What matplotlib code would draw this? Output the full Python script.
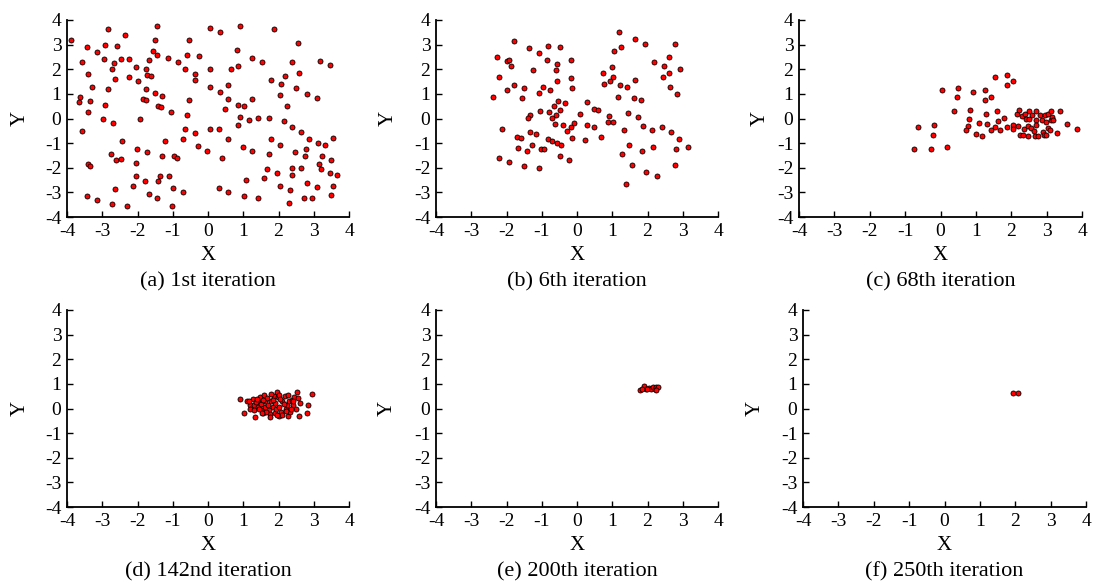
import matplotlib
matplotlib.use("Agg")
import matplotlib.pyplot as plt
import numpy as np

plt.rcParams['font.family'] = ['Liberation Serif', 'DejaVu Serif']
plt.rcParams['axes.unicode_minus'] = False

captions = ["(a) 1st iteration", "(b) 6th iteration", "(c) 68th iteration",
            "(d) 142nd iteration", "(e) 200th iteration", "(f) 250th iteration"]
ticks = [-4, -3, -2, -1, 0, 1, 2, 3, 4]

a_x = [-3.88, -2.85, -1.44, -2.36, -3.43, -2.92, -2.58, -3.16, -1.50, -0.53, 0.06, 0.33, 0.92, 1.86, 2.54,
       -1.56, -1.46, -0.60, -0.25, -1.13, -3.57, -2.96, -2.68, -2.48, -2.25, -1.67, -0.85, 0.82, 1.25, 1.52,
       2.38, 3.18, 3.45, -2.05, -2.71, -1.75, -1.74, -1.63, -3.40, -0.64, -0.36, 0.06, 0.85, 0.65, 2.58,
       2.19, -2.64, -2.25, -1.98, -0.37, 1.78, 2.07, -3.29, -2.84, -1.75, 0.06, 0.58, 2.50, 0.33, -3.62,
       -3.66, -3.36, -1.49, -1.30, -1.85, -1.75, -0.54, 0.56, 1.25, 2.04, 2.82, 3.09, -2.92, -1.42, -1.32,
       -1.06, 0.84, 1.01, 0.47, 2.23, -3.41, -0.60, -2.98, -1.92, 0.90, 1.43, 1.72, 1.17, 2.16, -2.70,
       0.85, -3.58, -0.64, 0.06, 0.31, 2.38, 2.65, -0.36, -0.72, 0.57, 1.79, 2.87, 3.56, -2.44, -1.23,
       3.13, 3.33, -0.29, 1.00, 2.05, -2.02, 2.77, -0.02, 1.26, -2.75, -1.74, 1.72, 2.47, -1.30, -0.97,
       -0.88, 0.40, 2.75, 3.22, -2.62, -2.48, 3.49, -2.03, -3.41, -3.34, 1.68, 2.37, 2.63, 3.16, 3.20,
       1.96, 3.47, 3.66, 2.37, -2.05, -1.37, -1.11, -1.41, -1.78, 1.09, 1.60, -2.14, 2.05, 3.55, 3.08,
       2.81, -2.64, -0.98, 0.30, 2.32, -0.71, 0.58, -1.66, -3.43, 1.02, 3.50, -1.44, 1.43, 2.71, 2.95,
       -3.16, -2.72, 2.30, -2.30, -1.03]
a_y = [3.18, 3.62, 3.74, 3.39, 2.89, 2.99, 2.95, 2.72, 3.18, 3.19, 3.68, 3.51, 3.74, 3.64, 3.07,
       2.76, 2.58, 2.57, 2.53, 2.47, 2.30, 2.42, 2.26, 2.41, 2.42, 2.39, 2.30, 2.77, 2.47, 2.30,
       2.30, 2.35, 2.19, 2.11, 1.99, 1.99, 1.78, 1.73, 1.82, 2.00, 1.82, 2.00, 2.15, 1.99, 1.86,
       1.73, 1.62, 1.68, 1.51, 1.55, 1.57, 1.39, 1.27, 1.18, 1.20, 1.26, 1.35, 1.24, 1.08, 0.89,
       0.69, 0.72, 1.03, 0.93, 0.80, 0.77, 0.77, 0.78, 0.80, 0.95, 1.00, 0.84, 0.55, 0.51, 0.46,
       0.28, 0.53, 0.51, 0.38, 0.51, 0.28, 0.14, 0.00, 0.00, 0.08, 0.04, 0.04, -0.08, -0.11, -0.18,
       -0.27, -0.49, -0.42, -0.41, -0.41, -0.35, -0.53, -0.59, -0.84, -0.82, -0.82, -0.82, -0.81, -0.92, -0.92,
       -0.99, -1.09, -1.12, -1.14, -1.08, -1.22, -1.23, -1.31, -1.30, -1.46, -1.38, -1.46, -1.38, -1.54, -1.54,
       -1.62, -1.62, -1.54, -1.51, -1.70, -1.64, -1.69, -1.80, -1.84, -1.93, -2.04, -2.03, -2.01, -1.86, -2.04,
       -2.20, -2.22, -2.30, -2.30, -2.35, -2.34, -2.32, -2.53, -2.53, -2.51, -2.43, -2.76, -2.73, -2.74, -2.78,
       -2.61, -2.85, -2.82, -2.82, -2.91, -2.99, -3.00, -3.05, -3.14, -3.15, -3.09, -3.23, -3.22, -3.24, -3.24,
       -3.31, -3.46, -3.42, -3.54, -3.54]

b_x = [-1.78, -2.27, -1.35, -1.08, -0.83, -0.48, -2.00, -1.94, -1.87, -0.86, -0.58, -0.16, -1.25, -0.60,
       -2.22, -0.16, -0.57, -1.79, -1.99, -1.51, -0.97, -0.76, -0.13, -2.39, -1.55, -1.08, -0.55, -0.34,
       -0.66, -0.48, -1.04, -0.79, -1.34, -1.40, -0.59, -0.71, -0.63, 0.08, -0.40, -0.29, -0.17, -0.08,
       -2.12, -1.34, -1.16, -1.71, -1.59, -0.82, -0.72, -0.57, -0.45, -0.14, -1.27, -1.68, -1.43, -1.01,
       -0.93, -2.21, -1.94, -0.49, -0.22, -1.50, -1.09, 0.27, 0.47, 0.59, 0.28, 0.49, 0.22, 0.69,
       1.20, 1.25, 1.64, 1.92, 2.77, 1.06, 0.98, 0.74, 1.01, 0.94, 0.76, 1.22, 1.64, 1.41, 2.19, 2.46,
       2.60, 2.91, 2.61, 2.44, 2.64, 2.84, 1.16, 1.63, 1.82, 0.92, 0.89, 1.02, 1.46, 1.73, 1.86, 1.32,
       2.14, 2.40, 2.67, 2.89, 1.48, 2.16, 2.80, 3.14, 1.28, 1.83, 1.55, 2.77, 1.97, 2.26, 1.39]
b_y = [3.16, 2.50, 2.85, 2.68, 2.96, 2.92, 2.34, 2.36, 2.12, 2.38, 2.22, 2.39, 1.95, 1.95,
       1.68, 1.64, 1.53, 1.38, 1.16, 1.22, 1.26, 1.16, 1.23, 0.89, 0.85, 1.05, 0.73, 0.62,
       0.51, 0.35, 0.30, 0.26, 0.16, 0.01, 0.14, 0.03, -0.24, 0.19, -0.28, -0.50, -0.36, -0.19,
       -0.41, -0.54, -0.64, -0.77, -0.78, -0.82, -0.93, -0.99, -1.09, -0.80, -1.08, -1.19, -1.30, -1.24,
       -1.23, -1.61, -1.77, -1.51, -1.69, -1.92, -2.01, 0.69, 0.38, 0.36, -0.26, -0.35, -0.86, -0.77,
       3.51, 2.91, 3.22, 3.04, 3.04, 2.73, 2.09, 1.84, 1.69, 1.53, 1.42, 1.38, 1.55, 1.27, 2.31, 2.15,
       2.49, 1.99, 1.86, 1.69, 1.27, 1.00, 0.89, 0.84, 0.74, 0.09, -0.15, -0.16, 0.22, 0.05, -0.31, -0.45,
       -0.47, -0.34, -0.53, -0.82, -1.08, -1.14, -1.23, -1.15, -1.45, -1.31, -1.88, -1.88, -2.18, -2.34, -2.66]

c_x = [-0.74, -0.28, 0.18, -0.63, -0.17, -0.20, 0.03, 0.49, 0.46, 0.92, 1.25, 1.27, 1.43, 1.54, 1.87,
       1.88, 2.04, 0.38, 0.84, 0.81, 0.77, 0.72, 0.99, 1.08, 1.18, 1.28, 1.32, 1.42, 1.54, 1.61, 1.63,
       1.68, 1.79, 1.89, 2.05, 2.05, 2.15, 2.21, 2.20, 2.25, 2.34, 2.30, 2.35, 2.38, 2.42, 2.48, 2.46,
       2.51, 2.51, 2.55, 2.58, 2.63, 2.69, 2.71, 2.69, 2.68, 2.76, 2.81, 2.87, 2.89, 2.92, 2.96, 2.99,
       2.97, 3.03, 3.04, 3.11, 3.10, 3.13, 3.16, 3.19, 3.30, 3.37, 3.57, 3.85]
c_y = [-1.22, -1.22, -1.15, -0.34, -0.28, -0.65, 1.16, 1.22, 0.86, 1.07, 1.16, 0.76, 0.88, 1.69, 1.78,
       1.36, 1.51, 0.30, 0.35, 0.00, -0.30, -0.46, -0.62, -0.18, -0.72, 0.19, -0.23, -0.45, -0.34, 0.30, -0.12,
       -0.45, 0.01, -0.36, -0.26, -0.43, 0.19, 0.36, -0.30, -0.66, -0.65, 0.12, -0.42, 0.19, -0.04, -0.30, -0.70,
       0.31, -0.03, -0.38, 0.14, -0.51, 0.31, -0.07, -0.27, -0.73, -0.73, 0.16, -0.08, -0.54, -0.68, 0.14, -0.14,
       -0.69, -0.38, 0.18, 0.31, -0.46, -0.08, 0.05, -0.08, -0.57, 0.32, -0.24, -0.41]

d_x = [0.90, 1.01, 1.12, 1.19, 1.20, 1.28, 1.30, 1.30, 1.33, 1.41, 1.42, 1.47, 1.50, 1.53, 1.57,
       1.59, 1.61, 1.63, 1.68, 1.70, 1.72, 1.75, 1.80, 1.83, 1.87, 1.89, 1.91, 1.92, 1.96, 1.98,
       2.00, 2.01, 2.06, 2.09, 2.11, 2.19, 2.21, 2.25, 2.26, 2.28, 2.30, 2.34, 2.38, 2.42, 2.45,
       2.49, 2.52, 2.55, 2.58, 2.62, 2.84, 2.81, 2.96, 1.76, 1.15, 1.35, 1.45, 1.55, 1.65, 1.85,
       2.00, 2.15, 2.35, 1.95, 1.38, 1.52, 1.78, 2.05, 2.22, 2.40]
d_y = [0.38, -0.18, 0.31, 0.16, -0.04, 0.38, 0.14, -0.08, -0.34, 0.26, 0.05, 0.45, 0.18, -0.08, -0.20,
       0.55, 0.31, 0.05, 0.42, 0.16, -0.08, -0.22, 0.31, 0.08, 0.51, -0.18, 0.22, 0.00, 0.69, 0.46,
       0.07, -0.32, -0.15, 0.30, -0.26, 0.51, -0.04, 0.14, -0.32, 0.55, 0.31, -0.14, 0.35, 0.15, 0.45,
       -0.01, 0.65, 0.41, -0.32, 0.22, 0.14, -0.19, 0.59, -0.34, 0.30, 0.25, 0.00, 0.35, -0.15, 0.35,
       0.55, 0.20, 0.00, -0.25, 0.40, -0.20, 0.60, 0.40, -0.10, 0.30]

e_x = [1.78, 1.89, 1.95, 2.03, 2.09, 2.15, 2.20, 2.25, 2.30, 2.24, 1.99, 1.84]
e_y = [0.76, 0.93, 0.81, 0.85, 0.81, 0.88, 0.78, 0.86, 0.89, 0.76, 0.78, 0.81]

f_x = [1.95, 2.09]
f_y = [0.61, 0.61]

series = [(a_x, a_y), (b_x, b_y), (c_x, c_y), (d_x, d_y), (e_x, e_y), (f_x, f_y)]

W, H = 1093, 585
fig = plt.figure(figsize=(W / 100, H / 100), dpi=100)

# axes boxes in pixels: left, right, top, bottom
boxes = [(67, 349, 20, 217), (436, 718, 20, 217), (799, 1082, 20, 217),
         (67, 349, 310, 507), (436, 718, 310, 507), (803, 1086, 310, 507)]
ylab_x = [20, 388, 760, 20, 387, 755]
row_x_label = [255, 255, 255, 545, 545, 545]
row_caption = [282, 282, 282, 572, 572, 572]

for i, ((l, r, t, b), (xs, ys), cap) in enumerate(zip(boxes, series, captions)):
    ax = fig.add_axes([l / W, 1 - b / H, (r - l) / W, (b - t) / H])
    ax.scatter(xs, ys, s=13, facecolor='#ff0000', edgecolor='black', linewidths=0.6, zorder=3,
               clip_on=False)
    ax.set_xlim(-4, 4)
    ax.set_ylim(-4, 4)
    ax.set_xticks(ticks)
    ax.set_yticks(ticks)
    ax.spines['top'].set_visible(False)
    ax.spines['right'].set_visible(False)
    for s in ['left', 'bottom']:
        ax.spines[s].set_linewidth(1.3)
    ax.tick_params(direction='in', length=4, width=1.0, labelsize=14, pad=4)
    cx = (l + r) / 2
    fig.text(cx / W, 1 - row_x_label[i] / H, 'X', ha='center', va='center', fontsize=15)
    fig.text(ylab_x[i] / W, 1 - ((t + b) / 2) / H, 'Y', ha='center', va='center',
             rotation=90, fontsize=15)
    fig.text(cx / W, 1 - row_caption[i] / H, cap, ha='center', va='center', fontsize=16)

fig.savefig('out.png', dpi=100)
